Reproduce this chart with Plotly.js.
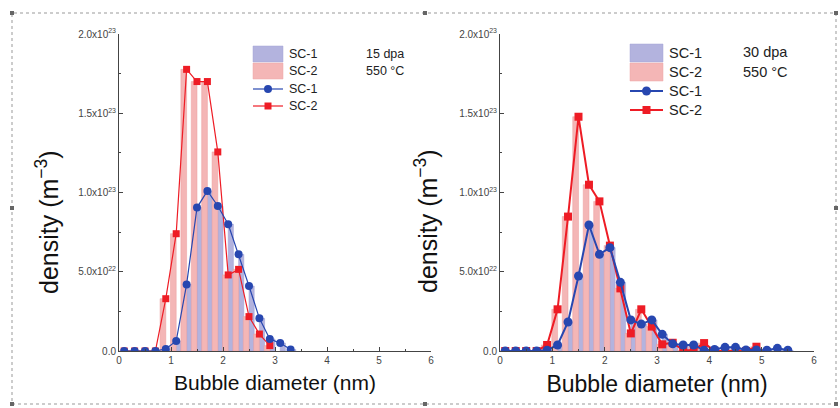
<!DOCTYPE html>
<html><head><meta charset="utf-8">
<script src="https://cdn.plot.ly/plotly-3.0.1.min.js"></script>
<style>html,body{margin:0;padding:0;background:#fff}#chart{width:840px;height:408px}</style>
</head><body><div id="chart"></div>
<script>
// ---- data (density in m^-3) ----
const diamL1 = [0.1,0.3,0.5,0.7,0.9,1.1,1.3,1.5,1.7,1.9,2.1,2.3,2.5,2.7,2.9,3.1,3.3];
const sc1L   = [0,0,0,0,0.013e23,0.063e23,0.42e23,0.905e23,1.01e23,0.915e23,0.80e23,0.61e23,0.41e23,0.206e23,0.076e23,0.05e23,0.01e23];
const diamL2 = [0.1,0.3,0.5,0.7,0.9,1.1,1.3,1.5,1.7,1.9,2.1,2.3,2.5,2.7,2.9];
const sc2L   = [0,0,0,0,0.33e23,0.74e23,1.777e23,1.70e23,1.70e23,1.256e23,0.48e23,0.515e23,0.217e23,0.107e23,0.034e23];

const diamR1 = [0.1,0.3,0.5,0.7,0.9,1.1,1.3,1.5,1.7,1.9,2.1,2.3,2.5,2.7,2.9,3.1,3.3,3.5,3.7,3.9,4.1,4.3,4.5,4.7,4.9,5.1,5.3,5.5];
const sc1R   = [0,0,0,0,0.005e23,0.038e23,0.183e23,0.473e23,0.795e23,0.61e23,0.652e23,0.433e23,0.196e23,0.170e23,0.196e23,0.105e23,0.045e23,0.038e23,0.038e23,0.005e23,0.01e23,0.023e23,0.023e23,0.006e23,0.006e23,0.005e23,0.017e23,0.005e23];
const diamR2 = [0.1,0.3,0.5,0.7,0.9,1.1,1.3,1.5,1.7,1.9,2.1,2.3,2.5,2.7,2.9,3.1,3.3,3.5,3.7,3.9,4.1,4.3,4.5,4.7,4.9];
const sc2R   = [0,0,0,0,0.038e23,0.263e23,0.848e23,1.478e23,1.049e23,0.944e23,0.665e23,0.395e23,0.111e23,0.263e23,0.154e23,0.042e23,0.052e23,0.005e23,0.006e23,0.05e23,0,0,0,0,0.027e23];

const seriesNames = ['SC-1','SC-2'];
const yTickVals = [0, 0.5e23, 1.0e23, 1.5e23, 2.0e23];
const yTickText = ['0.0','5.0x10<sup>22</sup>','1.0x10<sup>23</sup>','1.5x10<sup>23</sup>','2.0x10<sup>23</sup>'];
const xTickVals = [0,1,2,3,4,5,6];

const LAV = '#b3b3de', PINK = '#f4b6b6', BLUE = '#2747b0', RED = '#ee1c25';
const FONT = 'Liberation Sans, Arial, sans-serif';

function panel(xs1, y1, xs2, y2, xa, ya, lw, ms) {
  return [
    {type:'bar', x:xs1, y:y1, xaxis:xa, yaxis:ya, name:seriesNames[0], showlegend:false,
     width:0.1, offset:0, marker:{color:LAV, line:{color:'#9d9dd2', width:0.5}}},
    {type:'bar', x:xs2, y:y2, xaxis:xa, yaxis:ya, name:seriesNames[1], showlegend:false,
     width:0.11, offset:-0.11, marker:{color:PINK, line:{color:'#eb9c9c', width:0.5}}},
    {type:'scatter', mode:'lines+markers', x:xs2, y:y2, xaxis:xa, yaxis:ya, name:seriesNames[1], showlegend:false,
     line:{color:RED, width:lw}, marker:{symbol:'square', size:ms-1, color:RED}},
    {type:'scatter', mode:'lines+markers', x:xs1, y:y1, xaxis:xa, yaxis:ya, name:seriesNames[0], showlegend:false,
     line:{color:BLUE, width:lw}, marker:{symbol:'circle', size:ms, color:BLUE}}
  ];
}

const data = [
  ...panel(diamL1, sc1L, diamL2, sc2L, 'x', 'y', 1.2, 8),
  ...panel(diamR1, sc1R, diamR2, sc2R, 'x2', 'y2', 2, 9)
];

function xax(domain, anchor, tsize) {
  return {domain:domain, anchor:anchor, range:[0,6], tickvals:xTickVals, ticks:'inside', ticklen:4,
    tickcolor:'#444', showline:true, linecolor:'#444', linewidth:1, showgrid:false, zeroline:false,
    tickfont:{size:10, color:'#444', family:FONT},
    minor:{tickvals:[0.5,1.5,2.5,3.5,4.5,5.5], ticks:'inside', ticklen:2, tickcolor:'#444'},
    title:{text:'Bubble diameter (nm)', font:{size:tsize, color:'#111', family:FONT}, standoff:10}};
}
function yax(anchor) {
  return {domain:[1-351/408, 1-34/408], anchor:anchor, range:[0,2e23], tickvals:yTickVals, ticktext:yTickText,
    ticks:'inside', ticklen:4, tickcolor:'#444', showline:true, linecolor:'#444', linewidth:1,
    showgrid:false, zeroline:false, tickfont:{size:10, color:'#444', family:FONT},
    minor:{tickvals:[0.25e23,0.75e23,1.25e23,1.75e23], ticks:'inside', ticklen:2, tickcolor:'#444'}};
}

const H = 408, W = 840;
const px = v => v/W, py = v => 1 - v/H;

const handles = [[12,13],[425,13],[836,13],[12,208],[836,208],[12,404],[425,404],[836,404]].map(([hx,hy]) => ({
  type:'rect', xref:'paper', yref:'paper', x0:px(hx-2), x1:px(hx+2), y0:py(hy+2), y1:py(hy-2),
  fillcolor:'#666', line:{width:0}}));

// manual legend (swatches + text)
function legendBlock(x0, x1, rows, sh, lw, ms, fs, textX) {
  const sh2 = sh/2, xm = (x0+x1)/2, r = ms/2, q = (ms-1)/2;
  const shapes = [
    {type:'rect', xref:'paper', yref:'paper', x0:px(x0), x1:px(x1), y0:py(rows[0]+sh2), y1:py(rows[0]-sh2),
     fillcolor:LAV, line:{color:'#a5a5d6', width:0.5}},
    {type:'rect', xref:'paper', yref:'paper', x0:px(x0), x1:px(x1), y0:py(rows[1]+sh2), y1:py(rows[1]-sh2),
     fillcolor:PINK, line:{color:'#eda5a5', width:0.5}},
    {type:'line', xref:'paper', yref:'paper', x0:px(x0), x1:px(x1), y0:py(rows[2]), y1:py(rows[2]),
     line:{color:BLUE, width:lw}},
    {type:'circle', xref:'paper', yref:'paper', x0:px(xm-r), x1:px(xm+r), y0:py(rows[2]+r), y1:py(rows[2]-r),
     fillcolor:BLUE, line:{width:0}},
    {type:'line', xref:'paper', yref:'paper', x0:px(x0), x1:px(x1), y0:py(rows[3]), y1:py(rows[3]),
     line:{color:RED, width:lw}},
    {type:'rect', xref:'paper', yref:'paper', x0:px(xm-q), x1:px(xm+q), y0:py(rows[3]+q), y1:py(rows[3]-q),
     fillcolor:RED, line:{width:0}}
  ];
  const names = [seriesNames[0], seriesNames[1], seriesNames[0], seriesNames[1]];
  const anns = rows.map((ry,i) => ({xref:'paper', yref:'paper', x:px(textX), y:py(ry), xanchor:'left', yanchor:'middle',
     showarrow:false, text:names[i], font:{size:fs, color:'#222'}}));
  return {shapes, anns};
}
const legL = legendBlock(253, 283, [54,71,89,106], 16, 1.2, 8, 12.5, 287);
const legR = legendBlock(630, 663, [53,72,91,110], 18, 2, 9, 14.5, 667);

const layout = {
  width:W, height:H, margin:{l:0,r:0,t:0,b:0}, paper_bgcolor:'#fff', plot_bgcolor:'rgba(0,0,0,0)',
  barmode:'overlay', showlegend:false, font:{family:FONT, color:'#222'},
  xaxis: xax([119/W, 431/W], 'y', 21),
  yaxis: yax('x'),
  xaxis2: xax([500/W, 814/W], 'y2', 23),
  yaxis2: yax('x2'),
  annotations:[
    ...legL.anns, ...legR.anns,
    {xref:'paper', yref:'paper', x:px(364), y:py(54), xanchor:'left', yanchor:'middle', showarrow:false,
     text:'15 dpa', font:{size:12.5, color:'#222'}},
    {xref:'paper', yref:'paper', x:px(364), y:py(71), xanchor:'left', yanchor:'middle', showarrow:false,
     text:'550 °C', font:{size:12.5, color:'#222'}},
    {xref:'paper', yref:'paper', x:px(741), y:py(52), xanchor:'left', yanchor:'middle', showarrow:false,
     text:'30 dpa', font:{size:14.5, color:'#222'}},
    {xref:'paper', yref:'paper', x:px(741), y:py(72), xanchor:'left', yanchor:'middle', showarrow:false,
     text:'550 °C', font:{size:14.5, color:'#222'}},
    {xref:'paper', yref:'paper', x:px(47), y:py(222), xanchor:'center', yanchor:'middle', showarrow:false,
     textangle:-90, text:'density (m<sup>−3</sup>)', font:{size:25, color:'#111'}},
    {xref:'paper', yref:'paper', x:px(426), y:py(221), xanchor:'center', yanchor:'middle', showarrow:false,
     textangle:-90, text:'density (m<sup>−3</sup>)', font:{size:25, color:'#111'}}
  ],
  shapes:[
    {type:'rect', xref:'paper', yref:'paper', x0:px(12), x1:px(836), y0:py(404), y1:py(13),
     line:{color:'#999', width:1, dash:'dot'}, fillcolor:'rgba(0,0,0,0)'},
    ...handles, ...legL.shapes, ...legR.shapes
  ]
};

Plotly.newPlot('chart', data, layout, {displayModeBar:false, staticPlot:true});
</script></body></html>
